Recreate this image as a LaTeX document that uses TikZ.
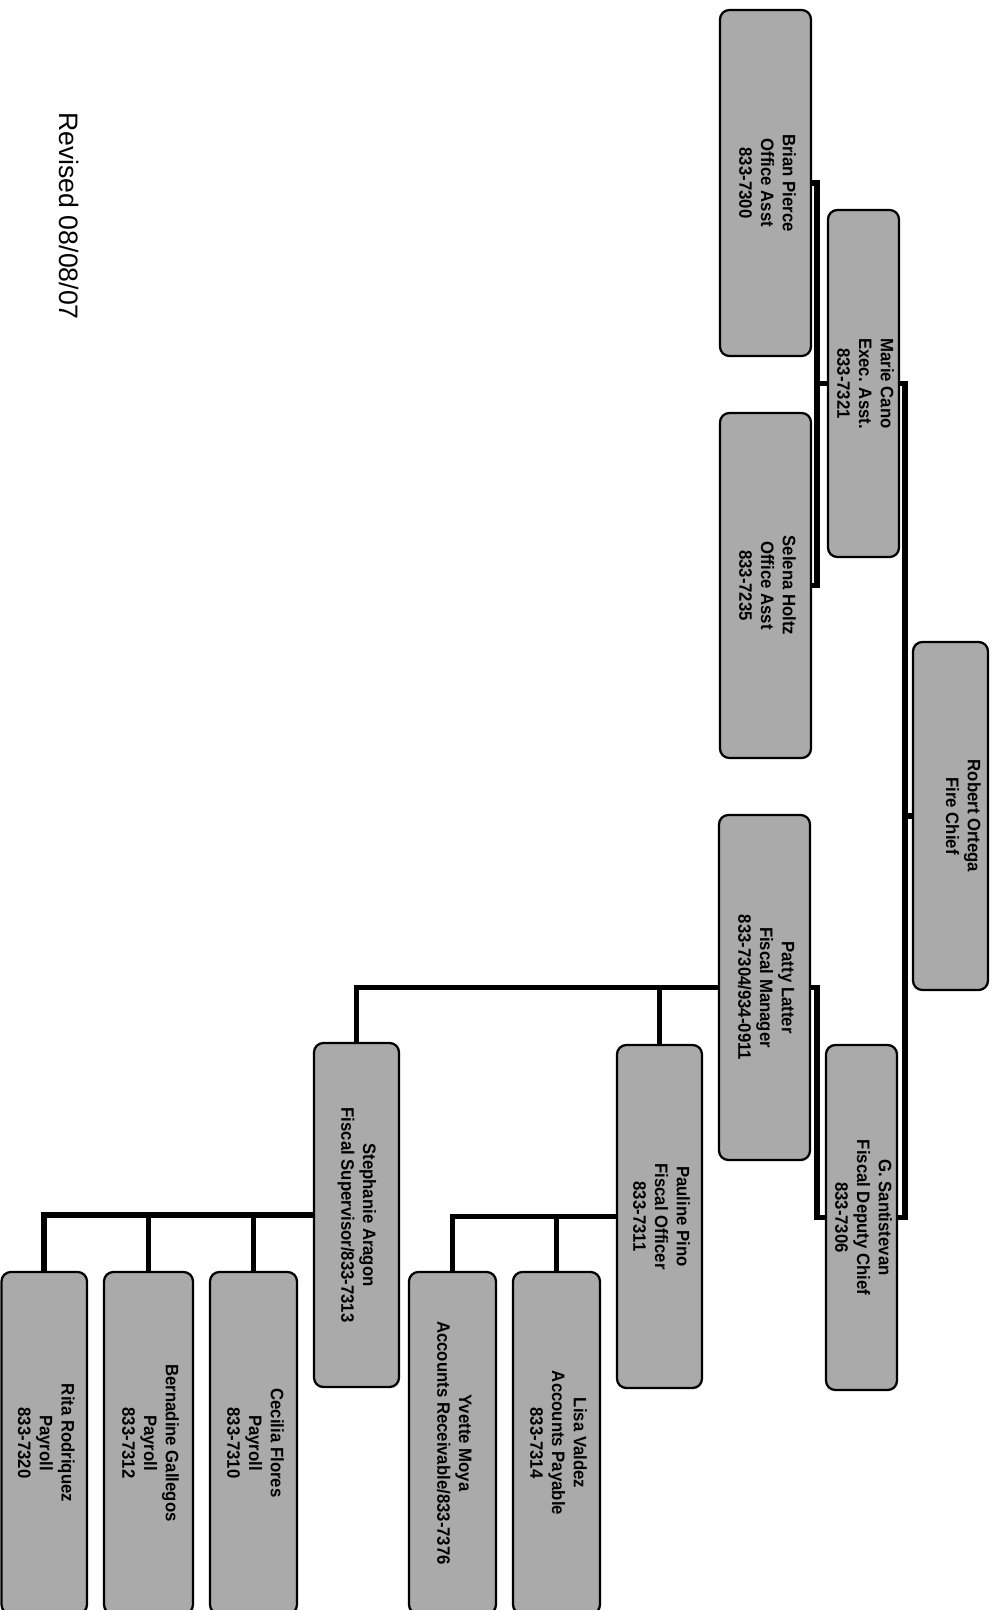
\documentclass[tikz,border=0pt]{standalone}
\usepackage{fontspec}
\setmainfont{Liberation Sans}
\newfontfamily\boxfont[FakeStretch=0.93]{Liberation Sans}
\usetikzlibrary{fit}
\definecolor{boxgray}{RGB}{170,170,170}
\newcommand\rtext[1]{\rotatebox{-90}{\begin{tabular}{@{}c@{}}#1\end{tabular}}}
\begin{document}
\begin{tikzpicture}[x=0.75pt,y=-0.75pt,
  orgbox/.style={draw=black, line width=1.7pt, fill=boxgray, rounded corners=7pt,
    inner sep=0pt, font=\boxfont\bfseries\fontsize{13.5}{16.3}\selectfont},
  link/.style={draw=black, line width=4.2pt, line join=miter, line cap=butt}]
\fill[white] (0,0) rectangle (994,1610);
\useasboundingbox (0,0) rectangle (994,1610);

% boxes
\node[orgbox, fit={(913,642) (988,990)}] (chief) {\rtext{Robert Ortega\\Fire Chief\\\mbox{}}};
\node[orgbox, fit={(828,210) (899,557)}] (marie) {\rtext{Marie Cano\\Exec. Asst.\\833-7321}};
\node[orgbox, fit={(826,1045) (897,1390)}] (santi) {\rtext{G. Santistevan\\Fiscal Deputy Chief\\833-7306}};
\node[orgbox, fit={(720,10) (811,356)}] (brian) {\rtext{Brian Pierce\\Office Asst\\833-7300}};
\node[orgbox, fit={(720,413) (811,758)}] (selena) {\rtext{Selena Holtz\\Office Asst\\833-7235}};
\node[orgbox, fit={(719,815) (810,1160)}] (patty) {\rtext{Patty Latter\\Fiscal Manager\\833-7304/934-0911}};
\node[orgbox, fit={(617,1045) (702,1388)}] (pauline) {\rtext{Pauline Pino\\Fiscal Officer\\833-7311}};
\node[orgbox, fit={(314,1043) (399,1387)}] (steph) {\rtext{Stephanie Aragon\\Fiscal Supervisor/833-7313}};
\node[orgbox, fit={(513,1272) (600,1614)}] (lisa) {\rtext{Lisa Valdez\\Accounts Payable\\833-7314}};
\node[orgbox, fit={(409,1272) (496,1614)}] (yvette) {\rtext{Yvette Moya\\Accounts Receivable/833-7376}};
\node[orgbox, fit={(210,1272) (297,1614)}] (cecilia) {\rtext{Cecilia Flores\\Payroll\\833-7310}};
\node[orgbox, fit={(104,1272) (193,1614)}] (bern) {\rtext{Bernadine Gallegos\\Payroll\\833-7312}};
\node[orgbox, fit={(1.5,1272) (87,1614)}] (rita) {\rtext{Rita Rodriquez\\Payroll\\833-7320}};

\node[font=\fontsize{20}{24}\selectfont, rotate=-90] (rev) at (69,216) {Revised 08/08/07};

% connectors
\coordinate (busA) at (905,0);
\coordinate (busB) at (817,0);
\draw[link] (chief.west) -- (chief.west -| busA);
\draw[link] (marie.east) -- (marie.east -| busA) -- (santi.east -| busA) -- (santi.east);
\draw[link] (brian.east) -- (brian.east -| busB) -- (selena.east -| busB) -- (selena.east);
\draw[link] (marie.west) -- (marie.west -| busB);
\draw[link] (patty.east) -- (patty.east -| busB) -- (santi.west -| busB) -- (santi.west);
\draw[link] (steph.north) -- (steph.north |- patty.west) -- (patty.west);
\draw[link] (pauline.north) -- (pauline.north |- patty.west);
\draw[link] (yvette.north) -- (yvette.north |- pauline.west) -- (pauline.west);
\draw[link] (lisa.north) -- (lisa.north |- pauline.west);
\draw[link] (rita.north) -- (rita.north |- steph.west) -- (steph.west);
\draw[link] (bern.north) -- (bern.north |- steph.west);
\draw[link] (cecilia.north) -- (cecilia.north |- steph.west);
\end{tikzpicture}
\end{document}
